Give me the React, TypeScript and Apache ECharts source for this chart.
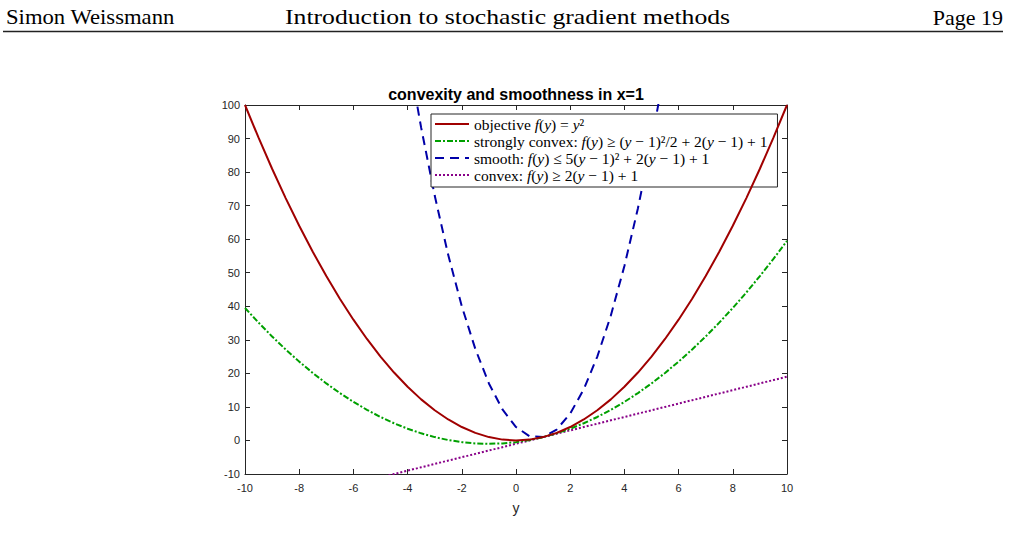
import React, { useEffect, useRef } from "react";
import * as echarts from "echarts";

// sample points along the y axis
const xs = [-10, -9.5, -9, -8.5, -8, -7.5, -7, -6.5, -6, -5.5, -5, -4.5, -4, -3.5, -3, -2.5, -2, -1.5, -1, -0.5, 0, 0.5, 1, 1.5, 2, 2.5, 3, 3.5, 4, 4.5, 5, 5.5, 6, 6.5, 7, 7.5, 8, 8.5, 9, 9.5, 10];

const objective = [100, 90.25, 81, 72.25, 64, 56.25, 49, 42.25, 36, 30.25, 25, 20.25, 16, 12.25, 9, 6.25, 4, 2.25, 1, 0.25, 0, 0.25, 1, 2.25, 4, 6.25, 9, 12.25, 16, 20.25, 25, 30.25, 36, 42.25, 49, 56.25, 64, 72.25, 81, 90.25, 100];

const stronglyConvex = [39.5, 35.125, 31, 27.125, 23.5, 20.125, 17, 14.125, 11.5, 9.125, 7, 5.125, 3.5, 2.125, 1, 0.125, -0.5, -0.875, -1, -0.875, -0.5, 0.125, 1, 2.125, 3.5, 5.125, 7, 9.125, 11.5, 14.125, 17, 20.125, 23.5, 27.125, 31, 35.125, 39.5, 44.125, 49, 54.125, 59.5];

const smooth = [584, 531.25, 481, 433.25, 388, 345.25, 305, 267.25, 232, 199.25, 169, 141.25, 116, 93.25, 73, 55.25, 40, 27.25, 17, 9.25, 4, 1.25, 1, 3.25, 8, 15.25, 25, 37.25, 52, 69.25, 89, 111.25, 136, 163.25, 193, 225.25, 260, 297.25, 337, 379.25, 424];

const convex = [-21, -20, -19, -18, -17, -16, -15, -14, -13, -12, -11, -10, -9, -8, -7, -6, -5, -4, -3, -2, -1, 0, 1, 2, 3, 4, 5, 6, 7, 8, 9, 10, 11, 12, 13, 14, 15, 16, 17, 18, 19];

const seriesNames = [
  "objective f(y) = y²",
  "strongly convex: f(y) ≥ (y − 1)²/2 + 2(y − 1) + 1",
  "smooth: f(y) ≤ 5(y − 1)² + 2(y − 1) + 1",
  "convex: f(y) ≥ 2(y − 1) + 1",
];
const seriesValues = [objective, stronglyConvex, smooth, convex];
const seriesColors = ["#a00000", "#00a000", "#0000a8", "#880088"];
const seriesDash: any[] = ["solid", [6, 2, 2, 2], [9, 6], [2, 2]];

const titleText = "convexity and smoothness in x=1";
const xName = "y";
const headerLeft = "Simon Weissmann";
const headerMid = "Introduction to stochastic gradient methods";
const headerRight = "Page 19";

const axisColor = "#262626";

function richLabel(name: string): string {
  const idx = name.indexOf(":") >= 0 ? name.indexOf(":") + 1 : name.indexOf(" ") + 1;
  const prefix = name.slice(0, idx);
  const math = name.slice(idx);
  let out = `{r|${prefix}}`;
  let run = "";
  let runItalic = false;
  const flush = () => {
    if (run) out += `{${runItalic ? "i" : "r"}|${run}}`;
    run = "";
  };
  for (const ch of math) {
    const it = ch === "f" || ch === "y";
    if (it !== runItalic) {
      flush();
      runItalic = it;
    }
    run += ch;
  }
  flush();
  return out;
}

export default function App() {
  const ref = useRef<HTMLDivElement>(null);
  useEffect(() => {
    if (!ref.current) return;
    const chart = echarts.init(ref.current, undefined, { renderer: "svg" });
    const serif = '"Liberation Serif", "Times New Roman", serif';
    const sans = '"Liberation Sans", Arial, sans-serif';
    chart.setOption({
      animation: false,
      backgroundColor: "#fff",
      title: {
        text: titleText,
        left: 511,
        top: 81,
        textAlign: "center",
        textStyle: { fontFamily: sans, fontSize: 16, fontWeight: "bold", color: "#000" },
      },
      legend: {
        orient: "vertical",
        left: 431,
        top: 114,
        padding: [2, 10, 4, 3],
        itemGap: 1,
        itemWidth: 34,
        itemHeight: 13,
        backgroundColor: "#fff",
        borderColor: axisColor,
        borderWidth: 1,
        borderRadius: 0,
        itemStyle: { opacity: 0 },
        data: seriesNames,
        formatter: (name: string) => richLabel(name),
        textStyle: {
          fontFamily: serif,
          fontSize: 15.5,
          lineHeight: 13,
          padding: [0, 0, 0, 0],
          rich: {
            r: { fontFamily: serif, fontSize: 15.5, lineHeight: 13, color: "#000" },
            i: { fontFamily: serif, fontSize: 15.5, lineHeight: 13, fontStyle: "italic", color: "#000" },
          },
        },
      },
      grid: { left: 245, right: 223, top: 105, bottom: 83 },
      xAxis: [
        {
          type: "value",
          position: "bottom",
          min: -10,
          max: 10,
          interval: 2,
          name: xName,
          nameLocation: "middle",
          nameGap: 27,
          nameTextStyle: { fontFamily: sans, fontSize: 14, color: axisColor },
          axisLine: { show: true, onZero: false, lineStyle: { color: axisColor, width: 1 } },
          axisTick: { show: true, inside: true, length: 5, lineStyle: { color: axisColor } },
          axisLabel: { margin: 8, fontFamily: sans, fontSize: 11, color: axisColor },
          splitLine: { show: false },
        },
        {
          type: "value",
          position: "top",
          min: -10,
          max: 10,
          interval: 2,
          axisLine: { show: true, onZero: false, lineStyle: { color: axisColor, width: 1 } },
          axisTick: { show: true, inside: true, length: 5, lineStyle: { color: axisColor } },
          axisLabel: { show: false },
          splitLine: { show: false },
        },
      ],
      yAxis: [
        {
          type: "value",
          position: "left",
          min: -10,
          max: 100,
          interval: 10,
          axisLine: { show: true, onZero: false, lineStyle: { color: axisColor, width: 1 } },
          axisTick: { show: true, inside: true, length: 5, lineStyle: { color: axisColor } },
          axisLabel: { margin: 5, fontFamily: sans, fontSize: 11, color: axisColor },
          splitLine: { show: false },
        },
        {
          type: "value",
          position: "right",
          min: -10,
          max: 100,
          interval: 10,
          axisLine: { show: true, onZero: false, lineStyle: { color: axisColor, width: 1 } },
          axisTick: { show: true, inside: true, length: 5, lineStyle: { color: axisColor } },
          axisLabel: { show: false },
          splitLine: { show: false },
        },
      ],
      series: seriesNames.map((name, k) => ({
        name,
        type: "line",
        xAxisIndex: 0,
        yAxisIndex: 0,
        showSymbol: false,
        symbol: "none",
        clip: true,
        color: seriesColors[k],
        lineStyle: { color: seriesColors[k], width: 2, type: seriesDash[k] },
        data: xs.map((x, i) => [x, seriesValues[k][i]]),
        z: 2 + (3 - k),
      })),
      graphic: [
        {
          type: "text",
          x: 6,
          y: 6,
          scaleX: 1.03,
          style: { text: headerLeft, font: `22px ${serif}`, fill: "#000", verticalAlign: "top" },
        },
        {
          type: "text",
          x: 285,
          y: 6,
          scaleX: 1.168,
          style: { text: headerMid, font: `22px ${serif}`, fill: "#000", verticalAlign: "top" },
        },
        {
          type: "text",
          x: 1003,
          y: 6,
          style: { text: headerRight, font: `22px ${serif}`, fill: "#000", verticalAlign: "top", align: "right" },
        },
        {
          type: "line",
          shape: { x1: 3, y1: 31.5, x2: 1003, y2: 31.5 },
          style: { stroke: "#222", lineWidth: 1.3 },
        },
      ],
    });
    return () => chart.dispose();
  }, []);
  return (
    <div
      ref={ref}
      style={{ position: "fixed", left: 0, top: 0, width: 1010, height: 557, background: "#fff" }}
    />
  );
}
